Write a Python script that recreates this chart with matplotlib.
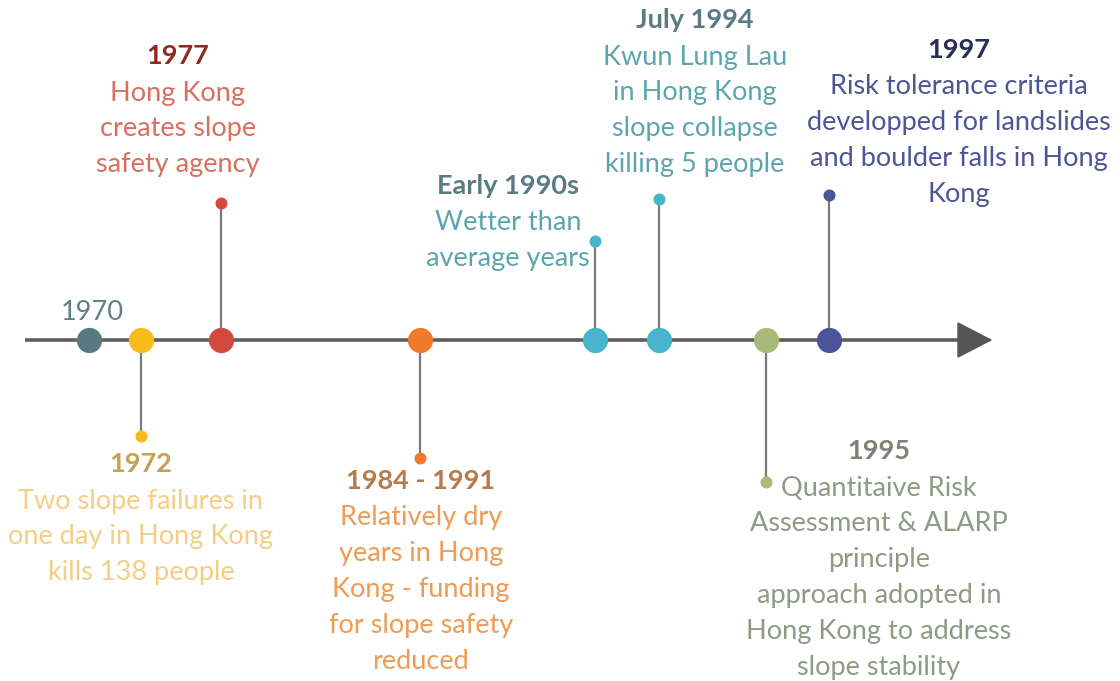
import numpy as np
import matplotlib.pyplot as plt

plt.rcParams['font.family'] = ['Lato', 'DejaVu Sans']

# Events along the timeline (x position in px units of the canvas)
event_x = [89, 141, 221, 420, 595, 659, 766, 829]
# stem end (y), None means no stem
stem_end = [None, 436, 203, 458, 241, 199, 482, 195]
dot_colors = ['#587982', '#f8bb1a', '#d24a3e', '#ee7a2a',
              '#48b5cc', '#48b5cc', '#a9b97c', '#4b5399']

headers = ['1970', '1972', '1977', '1984 - 1991', 'Early 1990s',
           'July 1994', '1995', '1997']
header_colors = ['#5f7f88', '#c4a253', '#8c2a22', '#b87a4a',
                 '#5a7a84', '#5a7a84', '#7d8274', '#262e5a']
header_bold = [False, True, True, True, True, True, True, True]
header_pos = [(92, 312), (141, 464), (178, 56), (421, 481), (508, 186),
              (695, 20), (879, 451), (959, 50)]

bodies = [
    [],
    ['Two slope failures in', 'one day in Hong Kong', 'kills 138 people'],
    ['Hong Kong', 'creates slope', 'safety agency'],
    ['Relatively dry', 'years in Hong', 'Kong - funding',
     'for slope safety', 'reduced'],
    ['Wetter than', 'average years'],
    ['Kwun Lung Lau', 'in Hong Kong', 'slope collapse', 'killing 5 people'],
    ['Quantitaive Risk', 'Assessment & ALARP', 'principle',
     'approach adopted in', 'Hong Kong to address', 'slope stability'],
    ['Risk tolerance criteria', 'developped for landslides',
     'and boulder falls in Hong', 'Kong'],
]
body_colors = ['#5f7f88', '#f5cd85', '#d8705f', '#ee9b55',
               '#5da5ae', '#5da5ae', '#8f9a82', '#4d5595']

axis_y = 340
line_start, line_end, arrow_tip = 25, 958, 991
line_gap = 35.8

fig = plt.figure(figsize=(11.2, 6.81), dpi=100)
ax = fig.add_axes([0, 0, 1, 1])
ax.set_xlim(0, 1120)
ax.set_ylim(681, 0)
ax.axis('off')

# main timeline + arrow head
ax.plot([line_start, line_end], [axis_y, axis_y], color='#5e5e5e', lw=2.6,
        solid_capstyle='butt', zorder=1)
ax.fill([line_end, arrow_tip, line_end], [axis_y - 17, axis_y, axis_y + 17],
        color='#555555', zorder=1)

for i, x in enumerate(event_x):
    if stem_end[i] is not None:
        ax.plot([x, x], [axis_y, stem_end[i]], color='#7a7a7a', lw=1.6, zorder=2)
        ax.scatter([x], [stem_end[i]], s=75, color=dot_colors[i], zorder=3,
                   linewidths=0)
    ax.scatter([x], [axis_y], s=330, color=dot_colors[i], zorder=3,
               linewidths=0)

    hx, hy = header_pos[i]
    ax.text(hx, hy, headers[i], color=header_colors[i], fontsize=19.5,
            fontweight='bold' if header_bold[i] else 'normal',
            ha='center', va='center')
    for j, line in enumerate(bodies[i]):
        ax.text(hx, hy + 37 + j * line_gap, line, color=body_colors[i],
                fontsize=19.5, ha='center', va='center')

fig.savefig('out.png', dpi=100)
